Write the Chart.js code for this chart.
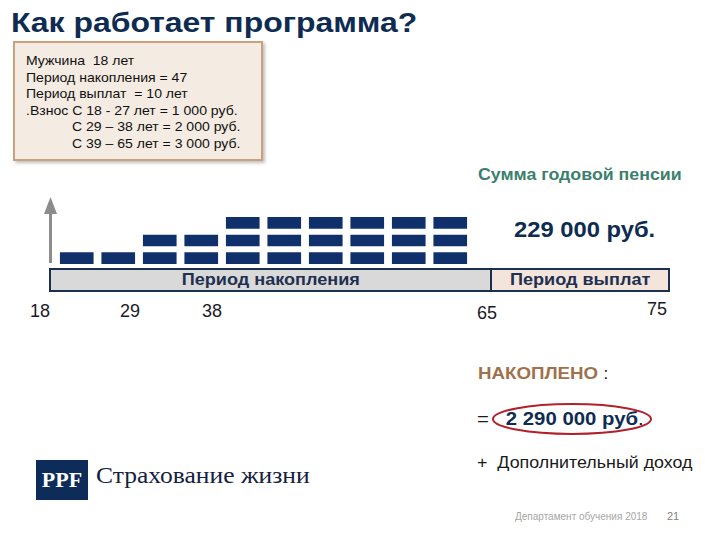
<!DOCTYPE html>
<html lang="ru">
<head>
<meta charset="utf-8">
<script src="https://cdn.jsdelivr.net/npm/chart.js@4.4.1/dist/chart.umd.min.js"></script>
<style>
  html, body { margin: 0; padding: 0; background: #fff; }
  body { width: 720px; height: 540px; position: relative; overflow: hidden;
         font-family: "Liberation Sans", Arial, sans-serif; }
  .abs { position: absolute; white-space: nowrap; line-height: 1; transform-origin: left center; }
  #title { left: 11px; top: 9px; font-size: 28px; font-weight: bold; color: #0e2c52; transform: scaleX(1.14); }
  #infoBox { left: 13px; top: 41px; width: 246px; height: 116px; background: #f4ebe2;
             border: 2px solid #c9a17c; box-shadow: 2px 2px 3px rgba(0,0,0,0.25); }
  #infoText { left: 26px; top: 53px; font-size: 13px; line-height: 16.6px; color: #111;
              transform: scaleX(1.08); transform-origin: left top; }
  #infoText div.ind { padding-left: 42.5px; }
  #chartWrap { left: 56px; top: 214px; width: 415px; height: 53px; }
  #period { left: 49px; top: 268px; width: 617px; height: 20px; border: 2px solid #1b2f4f; display: flex; }
  #period > div { height: 20px; line-height: 20px; text-align: center; font-size: 16px; font-weight: bold; color: #1f3050; }
  #period span { display: inline-block; transform: scaleX(1.13); }
  #accum { width: 439px; background: #d9d9d9; border-right: 2px solid #1b2f4f; }
  #payout { flex: 1; background: #f3e5dc; }
  .age { font-size: 18px; color: #1a1a2a; transform: translateX(-50%); }
  #sumLabel { left: 478px; top: 167px; font-size: 16px; font-weight: bold; color: #3d7f6e; transform: scaleX(1.11); }
  #pension { left: 514px; top: 219px; font-size: 22px; font-weight: bold; color: #0e2c52; transform: scaleX(1.08); }
  #nakop { left: 478px; top: 365px; font-size: 17px; color: #1a1a1a; transform: scaleX(1.1); }
  #nakop b { color: #a0714a; }
  #total { left: 477px; top: 409.5px; font-size: 18px; color: #1a1a1a; transform: scaleX(1.13); }
  #total b { color: #0e2c52; }
  #extra { left: 477px; top: 454px; font-size: 17px; color: #1a1a1a; transform: scaleX(1.05); }
  #logoBox { left: 36px; top: 460px; width: 52px; height: 40px; background: #0e2c5a; color: #fff;
             font-family: "Liberation Serif", "DejaVu Serif", serif; font-size: 22px; font-weight: bold;
             text-align: center; line-height: 40px; }
  #logoText { left: 96px; top: 464px; font-family: "Liberation Serif", "DejaVu Serif", serif; font-size: 23px;
              color: #14223f; transform: scaleX(1.11); }
  #footer { left: 515px; top: 512px; font-size: 10px; color: #a6a6a6; }
  #pageNo { left: 667px; top: 511px; font-size: 11px; color: #7f7f7f; }
</style>
</head>
<body>
<div class="abs" id="title">Как работает программа?</div>
<div class="abs" id="infoBox"></div>
<div class="abs" id="infoText">
  <div>Мужчина&nbsp; 18 лет</div>
  <div>Период накопления = 47</div>
  <div>Период выплат&nbsp; = 10 лет</div>
  <div>.Взнос С 18 - 27 лет = 1 000 руб.</div>
  <div class="ind">С 29 – 38 лет = 2 000 руб.</div>
  <div class="ind">С 39 – 65 лет = 3 000 руб.</div>
</div>

<svg class="abs" style="left:0;top:0" width="720" height="540">
  <line x1="50.5" y1="263" x2="50.5" y2="212" stroke="#8c8c8c" stroke-width="3"/>
  <polygon points="44,214 50.5,197 57,214" fill="#8c8c8c"/>
  <ellipse cx="572" cy="419" rx="79" ry="15" fill="none" stroke="#b3202c" stroke-width="2"/>
</svg>

<div class="abs" id="chartWrap"><canvas id="bricks" width="415" height="53"></canvas></div>

<div class="abs" id="period">
  <div id="accum"><span>Период накопления</span></div>
  <div id="payout"><span>Период выплат</span></div>
</div>

<div class="abs age" id="age0" style="left:40px;top:302px"></div>
<div class="abs age" id="age1" style="left:130px;top:302px"></div>
<div class="abs age" id="age2" style="left:212px;top:302px"></div>
<div class="abs age" id="age3" style="left:487px;top:304px"></div>
<div class="abs age" id="age4" style="left:657px;top:300px"></div>

<div class="abs" id="sumLabel">Сумма годовой пенсии</div>
<div class="abs" id="pension">229 000 руб.</div>
<div class="abs" id="nakop"><b>НАКОПЛЕНО</b> :</div>
<div class="abs" id="total">=&nbsp;&nbsp;&nbsp;<b>2 290 000 руб</b>.</div>
<div class="abs" id="extra">+&nbsp; Дополнительный доход</div>

<div class="abs" id="logoBox">PPF</div>
<div class="abs" id="logoText">Страхование жизни</div>
<div class="abs" id="footer">Департамент обучения 2018</div>
<div class="abs" id="pageNo">21</div>

<script>
// columns of contribution bricks (one brick = 1 000 руб.)
const columns = ["1", "2", "3", "4", "5", "6", "7", "8", "9", "10"];
const row1 = [1, 1, 1, 1, 1, 1, 1, 1, 1, 1];
const row2 = [null, null, 1, 1, 1, 1, 1, 1, 1, 1];
const row3 = [null, null, null, null, 1, 1, 1, 1, 1, 1];
const ageTicks = ["18", "29", "38", "65", "75"];

ageTicks.forEach((t, i) => {
    document.getElementById("age" + i).textContent = t;
});

const brickColor = "#10306c";
const brickStyle = {
    backgroundColor: brickColor,
    borderColor: "#ffffff",
    borderWidth: { top: 3, bottom: 3, left: 0, right: 0 },
    borderSkipped: false,
    barPercentage: 0.82,
    categoryPercentage: 1
};

new Chart(document.getElementById("bricks"), {
    type: "bar",
    data: {
        labels: columns,
        datasets: [
            Object.assign({ label: "1", data: row1 }, brickStyle),
            Object.assign({ label: "2", data: row2 }, brickStyle),
            Object.assign({ label: "3", data: row3 }, brickStyle)
        ]
    },
    options: {
        responsive: false,
        animation: false,
        devicePixelRatio: 1,
        layout: { padding: 0 },
        plugins: { legend: { display: false }, tooltip: { enabled: false } },
        scales: {
            x: { stacked: true, display: false },
            y: { stacked: true, display: false, min: 0, max: 3 }
        }
    }
});
</script>
</body>
</html>
